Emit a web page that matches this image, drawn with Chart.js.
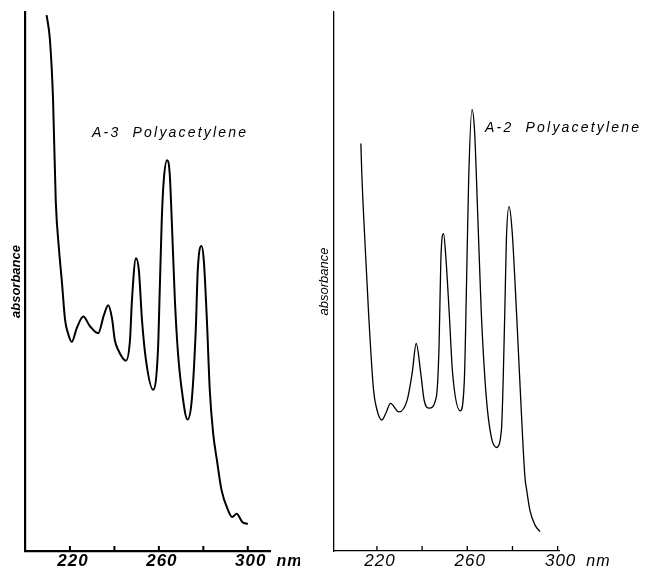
<!DOCTYPE html>
<html>
<head>
<meta charset="utf-8">
<script src="https://cdn.jsdelivr.net/npm/chart.js@4.4.1/dist/chart.umd.min.js"></script>
<style>
  body { margin: 0; background: #fff; }
  #wrap { position: relative; width: 646px; height: 569px; background: #fff; }
  canvas { position: absolute; top: 0; }
  #left { left: 0; }
  #right { left: 300px; }
</style>
</head>
<body>
<div id="wrap">
  <canvas id="left" width="300" height="569"></canvas>
  <canvas id="right" width="346" height="569"></canvas>
</div>
<script>
// A-3 polyacetylene, wavelength (nm) and relative absorbance
const a3Wl = [209.5, 211.0, 212.4, 213.6, 215.1, 216.3, 217.8, 219.2, 220.8, 223.1, 226.0, 229.0,
  232.7, 235.3, 237.2, 238.9, 240.2, 241.7, 245.2, 247.0, 247.9, 249.7, 251.0, 252.4, 254.2,
  257.4, 259.6, 260.4, 261.3, 262.2, 263.7, 264.9, 265.8, 267.2, 268.5, 270.3, 272.9, 274.8,
  276.6, 277.5, 279.2, 280.2, 281.6, 282.9, 284.4, 286.1, 288.2, 291.1, 293.0, 295.0, 297.5, 300.0];
const a3Abs = [0.994, 0.948, 0.837, 0.651, 0.558, 0.503, 0.429, 0.403, 0.388, 0.414, 0.435, 0.417,
  0.404, 0.438, 0.456, 0.432, 0.391, 0.373, 0.353, 0.391, 0.466, 0.543, 0.521, 0.429, 0.354,
  0.299, 0.373, 0.484, 0.614, 0.688, 0.725, 0.699, 0.614, 0.466, 0.373, 0.299, 0.244, 0.280,
  0.410, 0.521, 0.566, 0.540, 0.429, 0.299, 0.219, 0.169, 0.113, 0.076, 0.063, 0.069, 0.054, 0.050];

// A-2 polyacetylene
const a2Wl = [212.9, 213.3, 214.8, 216.3, 218.5, 220.0, 222.2, 224.0, 226.0, 229.7, 233.4, 235.6,
  237.4, 239.4, 240.9, 243.1, 246.3, 247.5, 248.3, 249.5, 250.5, 252.0, 253.5, 256.9, 258.7,
  259.7, 260.6, 262.1, 263.2, 264.6, 266.2, 268.4, 270.6, 272.9, 275.1, 276.6, 277.3, 278.5,
  279.8, 281.8, 283.6, 285.5, 286.3, 287.7, 290.0, 292.2];
const a2Abs = [0.756, 0.701, 0.565, 0.442, 0.299, 0.262, 0.243, 0.256, 0.274, 0.258, 0.280, 0.330,
  0.385, 0.330, 0.280, 0.265, 0.286, 0.379, 0.540, 0.589, 0.546, 0.442, 0.330, 0.260, 0.317,
  0.503, 0.688, 0.819, 0.781, 0.627, 0.442, 0.286, 0.212, 0.192, 0.224, 0.442, 0.577, 0.639,
  0.596, 0.442, 0.286, 0.138, 0.113, 0.076, 0.048, 0.036];

const tickNm = [220, 240, 260, 280, 300];
const tickLabels = ['220', '', '260', '', '300'];

const decor = {
  id: 'decor',
  afterDraw(chart, args, opts) {
    const ctx = chart.ctx;
    const x = chart.scales.x;
    const base = chart.chartArea.bottom;
    ctx.save();
    ctx.strokeStyle = '#000';
    ctx.fillStyle = '#000';
    ctx.lineWidth = opts.lineWidth;
    ctx.font = opts.tickFont;
    ctx.textBaseline = 'middle';
    ctx.textAlign = 'center';
    ctx.letterSpacing = '1px';
    tickNm.forEach((v, i) => {
      const px = x.getPixelForValue(v);
      ctx.beginPath();
      ctx.moveTo(px, base);
      ctx.lineTo(px, base - 5);
      ctx.stroke();
      if (tickLabels[i]) {
        ctx.fillText(tickLabels[i], px + 3, 561);
      }
    });
    // unit after the last label
    const last = x.getPixelForValue(300) + 3 + ctx.measureText('300').width / 2;
    ctx.textAlign = 'left';
    ctx.font = opts.unitFont;
    ctx.fillText('nm', last + 10, 562);

    ctx.font = opts.titleFont;
    ctx.letterSpacing = '2.2px';
    ctx.fillText(opts.title, opts.titleX, opts.titleY);
    ctx.restore();
  }
};

function makeChart(id, wl, abs, cfg) {
  return new Chart(document.getElementById(id), {
    type: 'line',
    data: {
      datasets: [{
        data: wl.map((w, i) => ({x: w, y: abs[i]})),
        borderColor: '#000',
        borderWidth: cfg.lineWidth,
        pointRadius: 0,
        cubicInterpolationMode: 'monotone',
        fill: false
      }]
    },
    options: {
      responsive: false,
      animation: false,
      layout: {padding: {top: 12, right: cfg.padRight, left: 0, bottom: 0}},
      plugins: {
        legend: {display: false},
        tooltip: {enabled: false},
        decor: cfg.decor
      },
      scales: {
        x: {
          type: 'linear',
          min: cfg.xMin,
          max: cfg.xMax,
          grid: {display: false},
          ticks: {display: false},
          border: {color: '#000', width: cfg.axisWidth},
          afterFit: (s) => { s.height = 18; }
        },
        y: {
          min: 0,
          max: 1,
          grid: {display: false},
          ticks: {display: false},
          border: {color: '#000', width: cfg.axisWidth},
          title: {
            display: true,
            text: 'absorbance',
            color: '#000',
            padding: {top: cfg.yTitlePad, bottom: 0},
            font: {family: 'Liberation Sans', size: 13, style: 'italic', weight: cfg.yTitleWeight}
          },
          afterFit: (s) => { s.width = cfg.yWidth; }
        }
      }
    },
    plugins: [decor]
  });
}

makeChart('left', a3Wl, a3Abs, {
  lineWidth: 2, axisWidth: 2.2, padRight: 30, xMin: 200, xMax: 310, yWidth: 25.5,
  yTitlePad: 9, yTitleWeight: 'bold',
  decor: {
    lineWidth: 2,
    tickFont: 'italic bold 17px "Liberation Sans"',
    unitFont: 'italic bold 16px "Liberation Sans"',
    titleFont: 'italic 14px "Liberation Sans"',
    title: 'A-3  Polyacetylene', titleX: 92, titleY: 133
  }
});

makeChart('right', a2Wl, a2Abs, {
  lineWidth: 1.3, axisWidth: 1.3, padRight: 87, xMin: 201, xMax: 300.6, yWidth: 34,
  yTitlePad: 17, yTitleWeight: 'normal',
  decor: {
    lineWidth: 1.3,
    tickFont: 'italic 17px "Liberation Sans"',
    unitFont: 'italic 16px "Liberation Sans"',
    titleFont: 'italic 14px "Liberation Sans"',
    title: 'A-2  Polyacetylene', titleX: 185, titleY: 128
  }
});
</script>
</body>
</html>
